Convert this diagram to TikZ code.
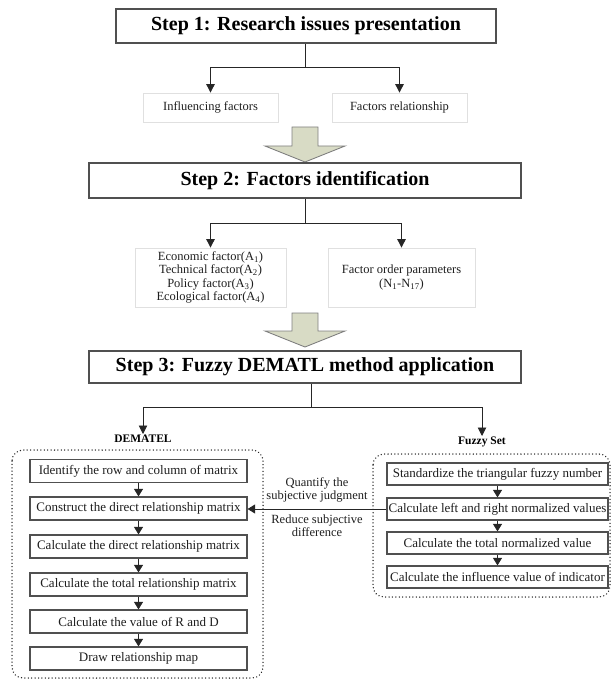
\documentclass[tikz,border=0pt]{standalone}
\usepackage{fontspec}
\setmainfont{Liberation Serif}
\usetikzlibrary{arrows.meta}
\definecolor{bigfill}{RGB}{216,219,197}
\definecolor{boxline}{RGB}{80,80,80}
\definecolor{txt}{RGB}{30,30,30}
\begin{document}
\begin{tikzpicture}[x=1pt,y=-1pt,
  stepbox/.style={draw=boxline, line width=1.3pt, fill=white, inner sep=0pt, text=black,
    font=\fontsize{20}{24}\selectfont\bfseries},
  subbox/.style={draw=black!12, line width=0.8pt, inner sep=0pt, text=txt, align=center,
    font=\fontsize{12.5}{13.5}\selectfont},
  procbox/.style={draw=boxline, line width=1.2pt, fill=white, inner sep=0pt, text=txt,
    minimum height=23pt, font=\fontsize{13}{14}\selectfont},
  lbl/.style={text=txt, align=center, inner sep=1pt, font=\fontsize{12.5}{13}\selectfont},
  hdr/.style={text=black, inner sep=1pt, font=\fontsize{11.5}{13}\selectfont\bfseries},
  ln/.style={draw=black!85, line width=0.9pt},
  arr/.style={ln, -{Triangle[width=8.5pt,length=8.5pt]}},
  sarr/.style={ln, -{Triangle[width=9pt,length=7.5pt]}},
  bigarrow/.style={draw=black!50, line width=0.9pt, fill=bigfill},
  dotbox/.style={draw=black!85, line width=1.5pt, dash pattern=on 0.01pt off 3.4pt, line cap=round, rounded corners=11pt}
]
\useasboundingbox (0,0) rectangle (611,679);

% ---------- Step 1 ----------
\node[stepbox, minimum width=380pt, minimum height=34pt] (s1) at (306,26) {Step 1: Research issues presentation};
\coordinate (j1) at (305,67);
\node[subbox, minimum width=135pt, minimum height=29pt] (inf) at (210.5,107.5) {Influencing factors};
\node[subbox, minimum width=135pt, minimum height=29pt] (frel) at (399.5,107.5) {Factors relationship};
\draw[ln] (j1 |- s1.south) -- (j1);
\draw[arr] (j1) -| (inf.north);
\draw[arr] (j1) -| (frel.north);

% big arrow 1
\draw[bigarrow] (292,127) -- (318,127) -- (318,146) -- (345,146) -- (305,162) -- (265,146) -- (292,146) -- cycle;

% ---------- Step 2 ----------
\node[stepbox, minimum width=432pt, minimum height=35pt] (s2) at (305,180.5) {Step 2: Factors identification};
\coordinate (j2) at (305,223);
\node[subbox, minimum width=151pt, minimum height=59pt] (fac) at (210.5,277.5)
  {Economic factor(A\textsubscript{1})\\Technical factor(A\textsubscript{2})\\Policy factor(A\textsubscript{3})\\Ecological factor(A\textsubscript{4})};
\node[subbox, minimum width=147pt, minimum height=59pt] (ord) at (401.5,277.5)
  {Factor order parameters\\(N\textsubscript{1}-N\textsubscript{17})};
\draw[ln] (j2 |- s2.south) -- (j2);
\draw[arr] (j2) -| (fac.north);
\draw[arr] (j2) -| (ord.north);

% big arrow 2
\draw[bigarrow] (292,313) -- (318,313) -- (318,331) -- (345,331) -- (305,347) -- (265,331) -- (292,331) -- cycle;

% ---------- Step 3 ----------
\node[stepbox, minimum width=432pt, minimum height=32pt] (s3) at (305,367) {Step 3: Fuzzy DEMATL method application};
\coordinate (j3) at (311,407);
\node[hdr, anchor=north] (dem) at (143,434) {DEMATEL};
\node[hdr, anchor=north] (fzs) at (482,436) {Fuzzy Set};
\draw[ln] (j3 |- s3.south) -- (j3);
\draw[arr] (j3) -| (dem.north);
\draw[arr] (j3) -| (fzs.north);

% ---------- DEMATEL column ----------
\draw[dotbox] (12,450) rectangle (263,678);
\node[procbox, minimum width=217pt] (d1) at (138.5,471) {Identify the row and column of matrix};
\node[procbox, minimum width=217pt] (d2) at (138.5,508.5) {Construct the direct relationship matrix};
\node[procbox, minimum width=217pt] (d3) at (138.5,546.5) {Calculate the direct relationship matrix};
\node[procbox, minimum width=217pt] (d4) at (138.5,584.5) {Calculate the total relationship matrix};
\node[procbox, minimum width=217pt] (d5) at (138.5,621.5) {Calculate the value of R and D};
\node[procbox, minimum width=217pt] (d6) at (138.5,658.5) {Draw relationship map};
\foreach \a/\b in {d1/d2,d2/d3,d3/d4,d4/d5,d5/d6}
  \draw[sarr] (\a.south) -- (\b.north);

% ---------- Fuzzy Set column ----------
\draw[dotbox] (373,454) rectangle (610,597);
\node[procbox, minimum width=221pt, minimum height=22pt] (f1) at (497.5,474) {Standardize the triangular fuzzy number};
\node[procbox, minimum width=221pt, minimum height=22pt] (f2) at (497.5,509) {Calculate left and right normalized values};
\node[procbox, minimum width=221pt, minimum height=22pt] (f3) at (497.5,543) {Calculate the total normalized value};
\node[procbox, minimum width=221pt, minimum height=22pt] (f4) at (497.5,577) {Calculate the influence value of indicator};
\foreach \a/\b in {f1/f2,f2/f3,f3/f4}
  \draw[sarr] (\a.south) -- (\b.north);

% ---------- link ----------
\draw[sarr] (f2.west) -- (f2.west -| d2.east);
\node[lbl] (q) at (317,490) {Quantify the\\subjective judgment};
\node[lbl] (r) at (317,526) {Reduce subjective\\difference};
\end{tikzpicture}
\end{document}
